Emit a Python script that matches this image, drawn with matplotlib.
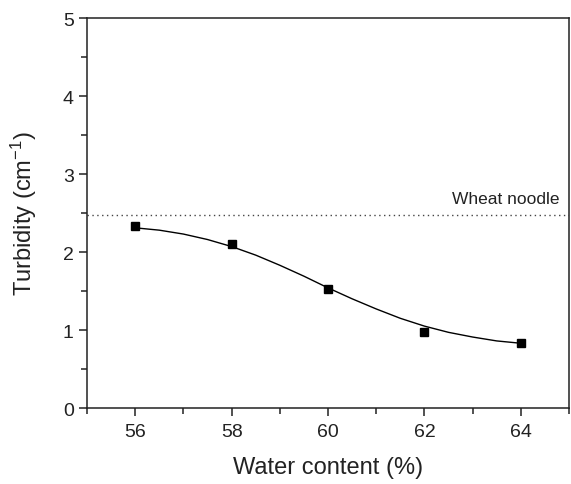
import matplotlib
matplotlib.use("Agg")
import matplotlib.pyplot as plt
from matplotlib.ticker import MultipleLocator

plt.rcParams['font.family'] = ['Liberation Sans', 'DejaVu Sans']

# measured data points
water = [56, 58, 60, 62, 64]
turbidity = [2.33, 2.10, 1.53, 0.98, 0.83]

# fitted curve
fit_x = [56, 56.5, 57, 57.5, 58, 58.5, 59, 59.5, 60, 60.5, 61, 61.5, 62, 62.5, 63, 63.5, 64]
fit_y = [2.31, 2.28, 2.23, 2.16, 2.07, 1.96, 1.83, 1.69, 1.54, 1.40, 1.27, 1.15, 1.05, 0.97, 0.91, 0.86, 0.83]

wheat_noodle = 2.47
ref_label = "Wheat noodle"

xticks = [56, 58, 60, 62, 64]
yticks = [0, 1, 2, 3, 4, 5]

fig = plt.figure(figsize=(5.71, 4.85), dpi=100)
ax = fig.add_axes([0.1524, 0.1567, 0.8441, 0.8041])

ax.plot(fit_x, fit_y, color='black', lw=1.0)
ax.plot(water, turbidity, linestyle='none', marker='s', color='black', markersize=6)
ax.axhline(wheat_noodle, color='#444444', lw=1.0, linestyle=(0, (1, 2.5)))
ax.text(64.8, wheat_noodle + 0.12, ref_label, ha='right', va='bottom', fontsize=12.5, color='#222222')

ax.set_xlim(55, 65)
ax.set_ylim(0, 5)
ax.set_xticks(xticks)
ax.set_yticks(yticks)
ax.xaxis.set_minor_locator(MultipleLocator(1))
ax.yaxis.set_minor_locator(MultipleLocator(0.5))
ax.tick_params(which='both', direction='out', top=False, right=False, colors='#222222', labelsize=14, width=1.1)
ax.tick_params(axis='x', which='both', pad=5)
ax.tick_params(which='major', length=6)
ax.tick_params(which='minor', length=4)
for s in ax.spines.values():
    s.set_linewidth(1.1)
    s.set_color('#222222')

ax.set_xlabel("Water content (%)", fontsize=17, labelpad=11, color='#222222')
ax.set_ylabel(r"Turbidity (cm$\mathregular{^{-1}}$)", fontsize=17, labelpad=17, color='#222222')

fig.savefig("out.png", dpi=100)
